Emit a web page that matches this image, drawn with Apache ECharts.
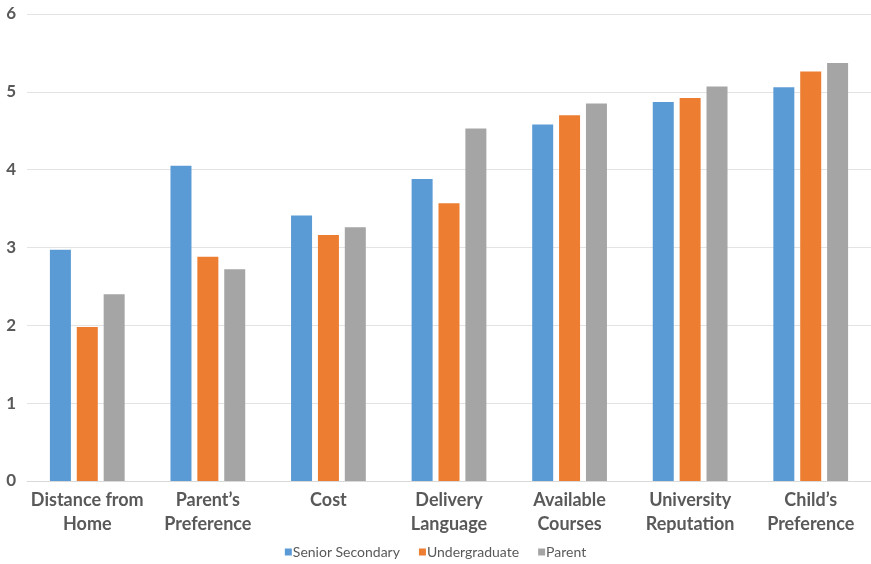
<!DOCTYPE html>
<html>
<head>
<meta charset="utf-8">
<script src="https://cdn.jsdelivr.net/npm/echarts@6/dist/echarts.min.js"></script>
<style>
  html, body { margin: 0; padding: 0; background: #fff; }
  #chart { width: 871px; height: 564px; }
</style>
</head>
<body>
<div id="chart"></div>
<script>
// Factors influencing university choice, mean ratings by respondent group
const categories = [
  'Distance from\nHome',
  'Parent\u2019s\nPreference',
  'Cost',
  'Delivery\nLanguage',
  'Available\nCourses',
  'University\nReputation',
  'Child\u2019s\nPreference'
];
const seniorSecondary = [2.97, 4.05, 3.41, 3.88, 4.58, 4.87, 5.06];
const undergraduate   = [1.98, 2.88, 3.16, 3.57, 4.70, 4.92, 5.26];
const parent          = [2.40, 2.72, 3.26, 4.53, 4.85, 5.07, 5.37];
const yTicks = [0, 1, 2, 3, 4, 5, 6];

const textColor = '#595959';
const fontFamily = 'Lato, "Open Sans", "Liberation Sans", sans-serif';

const chart = echarts.init(document.getElementById('chart'), null, { renderer: 'canvas' });

const makeSeries = (name, data, color) => ({
  name,
  type: 'bar',
  data,
  barWidth: 21,
  barGap: '28%',
  itemStyle: { color },
  emphasis: { disabled: true }
});

chart.setOption({
  animation: false,
  textStyle: { fontFamily },
  grid: { left: 27, top: 14, width: 849, height: 467, containLabel: false },
  legend: {
    top: 540,
    left: 'center',
    itemWidth: 7,
    itemHeight: 7,
    itemGap: 19,
    icon: 'rect',
    textStyle: { color: textColor, fontSize: 14, fontFamily, padding: [0, 0, 0, -4] },
    data: ['Senior Secondary', 'Undergraduate', 'Parent']
  },
  xAxis: {
    type: 'category',
    data: categories,
    axisLine: { lineStyle: { color: '#D9D9D9', width: 1 } },
    axisTick: { show: false },
    axisLabel: {
      color: textColor,
      fontSize: 18,
      fontWeight: 'bold',
      lineHeight: 24,
      margin: 7,
      interval: 0,
      fontFamily
    }
  },
  yAxis: {
    type: 'value',
    min: yTicks[0],
    max: yTicks[yTicks.length - 1],
    interval: 1,
    axisLine: { show: false },
    axisTick: { show: false },
    splitLine: { lineStyle: { color: '#E3E3E3', width: 1 } },
    axisLabel: {
      color: textColor,
      fontSize: 17,
      fontWeight: 'bold',
      margin: 11,
      fontFamily
    }
  },
  series: [
    makeSeries('Senior Secondary', seniorSecondary, '#5B9BD5'),
    makeSeries('Undergraduate', undergraduate, '#ED7D31'),
    makeSeries('Parent', parent, '#A5A5A5')
  ]
});
</script>
</body>
</html>
